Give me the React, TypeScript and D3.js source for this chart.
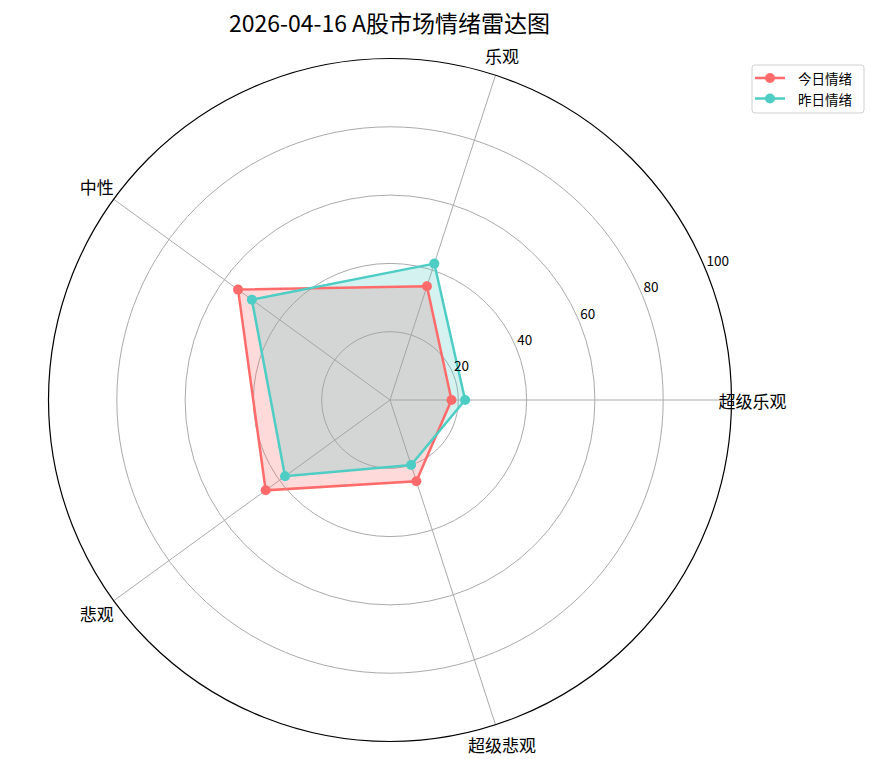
import React from "react";
import * as d3 from "d3";

const categories = ["超级乐观", "乐观", "中性", "悲观", "超级悲观"];
const todayValues = [18, 35, 55, 45, 25];
const yesterdayValues = [22, 42, 50, 38, 20];
const radialTicks = [20, 40, 60, 80, 100];
const seriesNames = ["今日情绪", "昨日情绪"];
const title = "2026-04-16 A股市场情绪雷达图";

const App: React.FC = () => {
  const width = 871;
  const height = 759;
  const cx = 390;
  const cy = 400;
  const outer = 341.5;
  const font = "'Noto Sans CJK SC', 'Noto Sans', sans-serif";

  const r = d3.scaleLinear().domain([0, 100]).range([0, outer]);
  // ángulo de cada categoría (desde el este, sentido antihorario)
  const theta = d3.scaleLinear().domain([0, categories.length]).range([0, 2 * Math.PI]);

  const line = d3
    .lineRadial<number>()
    .angle((_, i) => Math.PI / 2 - theta(i))
    .radius(d => r(d))
    .curve(d3.curveLinearClosed);

  const pt = (i: number, v: number) => [
    cx + r(v) * Math.cos(theta(i)),
    cy - r(v) * Math.sin(theta(i)),
  ];

  const series = [
    { name: seriesNames[0], values: todayValues, color: "#FF6B6B" },
    { name: seriesNames[1], values: yesterdayValues, color: "#4ECDC4" },
  ];

  const labelAngle = (22.5 * Math.PI) / 180;

  return (
    <svg
      width={width}
      height={height}
      style={{ position: "absolute", left: 0, top: 0, background: "#fff" }}
      fontFamily={font}
    >
      <text x={389.5} y={22} textAnchor="middle" dominantBaseline="central" fontSize={23} fill="#000">
        {title}
      </text>

      {/* rejilla */}
      {radialTicks.slice(0, -1).map(t => (
        <circle key={t} cx={cx} cy={cy} r={r(t)} fill="none" stroke="#aaaaaa" strokeWidth={1} />
      ))}
      {categories.map((c, i) => {
        const [x, y] = pt(i, 100);
        return <line key={c} x1={cx} y1={cy} x2={x} y2={y} stroke="#aaaaaa" strokeWidth={1} />;
      })}

      {/* series */}
      {series.map(s => (
        <g key={s.name} transform={`translate(${cx},${cy})`}>
          <path d={line(s.values) ?? ""} fill={s.color} fillOpacity={0.25} stroke="none" />
        </g>
      ))}
      {series.map(s => (
        <g key={s.name + "l"}>
          <path
            d={line(s.values) ?? ""}
            transform={`translate(${cx},${cy})`}
            fill="none"
            stroke={s.color}
            strokeWidth={2.5}
          />
          {s.values.map((v, i) => {
            const [x, y] = pt(i, v);
            return <circle key={i} cx={x} cy={y} r={5} fill={s.color} />;
          })}
        </g>
      ))}

      <circle cx={cx} cy={cy} r={outer} fill="none" stroke="#000" strokeWidth={1.2} />

      {/* etiquetas radiales */}
      {radialTicks.map(t => (
        <text
          key={t}
          x={cx + r(t) * Math.cos(labelAngle) + 1}
          y={cy - r(t) * Math.sin(labelAngle) - 3}
          fontSize={13.5}
          fill="#000"
        >
          {t}
        </text>
      ))}

      {/* etiquetas de categorías */}
      {categories.map((c, i) => {
        const rr = outer + 21;
        return (
          <text
            key={c}
            x={cx + rr * Math.cos(theta(i))}
            y={cy - rr * Math.sin(theta(i))}
            textAnchor="middle"
            dominantBaseline="central"
            fontSize={17}
            fill="#000"
          >
            {c}
          </text>
        );
      })}

      {/* leyenda */}
      <g transform="translate(752,65)">
        <rect x={0} y={0} width={112} height={48} rx={3} fill="#fff" fillOpacity={0.8} stroke="#d0d0d0" />
        {series.map((s, i) => (
          <g key={s.name} transform={`translate(0,${13 + i * 20.5})`}>
            <line x1={3} x2={33} y1={0} y2={0} stroke={s.color} strokeWidth={2.5} />
            <circle cx={18} cy={0} r={5} fill={s.color} />
            <text x={46} y={0} dominantBaseline="central" fontSize={13.5} fill="#000">
              {s.name}
            </text>
          </g>
        ))}
      </g>
    </svg>
  );
};

export default App;
